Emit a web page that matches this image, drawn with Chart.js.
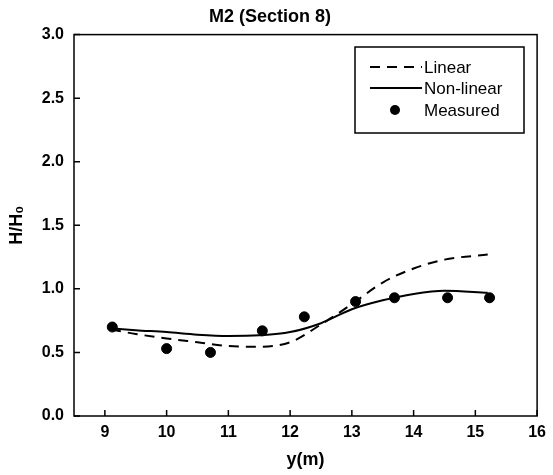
<!DOCTYPE html>
<html>
<head>
<meta charset="utf-8">
<script src="https://cdn.jsdelivr.net/npm/chart.js@4/dist/chart.umd.min.js"></script>
<style>
  body { margin: 0; background: #fff; }
  #wrap { width: 553px; height: 475px; }
</style>
</head>
<body>
<div id="wrap"><canvas id="c" width="553" height="475"></canvas></div>
<script>
// values
const curveX = [9.1, 9.5, 10.0, 10.5, 11.0, 11.5, 12.0, 12.5, 13.0, 13.5, 14.0, 14.5, 15.2];
const linearY = [0.68, 0.645, 0.61, 0.58, 0.55, 0.545, 0.58, 0.72, 0.88, 1.05, 1.16, 1.23, 1.27];
const nonlinearY = [0.69, 0.675, 0.66, 0.64, 0.63, 0.635, 0.66, 0.73, 0.84, 0.91, 0.96, 0.985, 0.97];
const measuredX = [9.12, 10.0, 10.71, 11.55, 12.23, 13.06, 13.69, 14.55, 15.23];
const measuredY = [0.70, 0.53, 0.50, 0.67, 0.78, 0.90, 0.93, 0.93, 0.93];
const xTicks = [9, 10, 11, 12, 13, 14, 15, 16];
const yTicks = [0, 0.5, 1.0, 1.5, 2.0, 2.5, 3.0];

const pts = (xs, ys) => xs.map((x, i) => ({ x: x, y: ys[i] }));

// frame + inward tick marks + legend box
const framePlugin = {
  id: 'frame',
  afterDraw(chart) {
    const ctx = chart.ctx;
    const a = chart.chartArea;
    const sx = chart.scales.x, sy = chart.scales.y;
    ctx.save();
    ctx.strokeStyle = '#000';
    ctx.lineWidth = 1.5;
    ctx.strokeRect(a.left, a.top, a.right - a.left, a.bottom - a.top);
    ctx.beginPath();
    xTicks.forEach(v => {
      const px = sx.getPixelForValue(v);
      ctx.moveTo(px, a.bottom);
      ctx.lineTo(px, a.bottom - 6);
    });
    yTicks.forEach(v => {
      const py = sy.getPixelForValue(v);
      ctx.moveTo(a.left, py);
      ctx.lineTo(a.left + 6, py);
    });
    ctx.stroke();

    // legend
    const bx = 355, by = 47, bw = 169, bh = 86;
    ctx.lineWidth = 1.5;
    ctx.strokeRect(bx, by, bw, bh);
    ctx.font = '17px "Liberation Sans", Arial, sans-serif';
    ctx.fillStyle = '#000';
    ctx.textBaseline = 'middle';
    const rows = [67, 88, 110];
    chart.data.datasets.forEach((ds, i) => {
      const y = rows[i];
      ctx.lineWidth = 2;
      if (ds.showLine) {
        ctx.setLineDash(ds.borderDash || []);
        ctx.beginPath();
        ctx.moveTo(370, y);
        ctx.lineTo(422, y);
        ctx.stroke();
        ctx.setLineDash([]);
      } else {
        ctx.beginPath();
        ctx.arc(395, y, 5, 0, Math.PI * 2);
        ctx.fill();
      }
      ctx.fillText(ds.label, 424, y + 1);
    });
    ctx.restore();
  }
};

new Chart(document.getElementById('c'), {
  type: 'scatter',
  plugins: [framePlugin],
  data: {
    datasets: [{
      label: 'Linear',
      data: pts(curveX, linearY),
      showLine: true,
      borderColor: '#000',
      borderWidth: 2,
      borderDash: [10, 7],
      pointRadius: 0,
      cubicInterpolationMode: 'monotone'
    }, {
      label: 'Non-linear',
      data: pts(curveX, nonlinearY),
      showLine: true,
      borderColor: '#000',
      borderWidth: 2,
      pointRadius: 0,
      cubicInterpolationMode: 'monotone'
    }, {
      label: 'Measured',
      data: pts(measuredX, measuredY),
      showLine: false,
      pointRadius: 5,
      backgroundColor: '#000',
      borderColor: '#000'
    }]
  },
  options: {
    responsive: false,
    animation: false,
    events: [],
    layout: { padding: { left: 0, right: 13, top: 0, bottom: 0 } },
    plugins: {
      legend: { display: false },
      tooltip: { enabled: false },
      title: {
        display: true,
        text: 'M2 (Section 8)',
        color: '#000',
        font: { family: '"Liberation Sans", Arial, sans-serif', size: 18, weight: 'bold' },
        padding: { top: 6, bottom: 7 }
      }
    },
    scales: {
      x: {
        type: 'linear',
        min: 8.5,
        max: 16,
        afterBuildTicks: s => { s.ticks = xTicks.map(v => ({ value: v })); },
        afterFit: s => { s.height = 59; },
        grid: { display: false, drawTicks: false },
        border: { display: false },
        ticks: {
          color: '#000',
          padding: 7,
          font: { family: '"Liberation Sans", Arial, sans-serif', size: 16, weight: 'bold' }
        },
        title: {
          display: true,
          text: 'y(m)',
          color: '#000',
          font: { family: '"Liberation Sans", Arial, sans-serif', size: 18, weight: 'bold' },
          padding: { top: 0, bottom: 4 }
        }
      },
      y: {
        min: 0,
        max: 3,
        afterBuildTicks: s => { s.ticks = yTicks.map(v => ({ value: v })); },
        afterFit: s => { s.width = 74; },
        grid: { display: false, drawTicks: false },
        border: { display: false },
        ticks: {
          color: '#000',
          padding: 10,
          callback: v => v.toFixed(1),
          font: { family: '"Liberation Sans", Arial, sans-serif', size: 16, weight: 'bold' }
        },
        title: {
          display: true,
          text: 'H/H₀',
          color: '#000',
          font: { family: '"Liberation Sans", Arial, sans-serif', size: 18, weight: 'bold' },
          padding: { top: 6, bottom: 0 }
        }
      }
    }
  }
});
</script>
</body>
</html>
